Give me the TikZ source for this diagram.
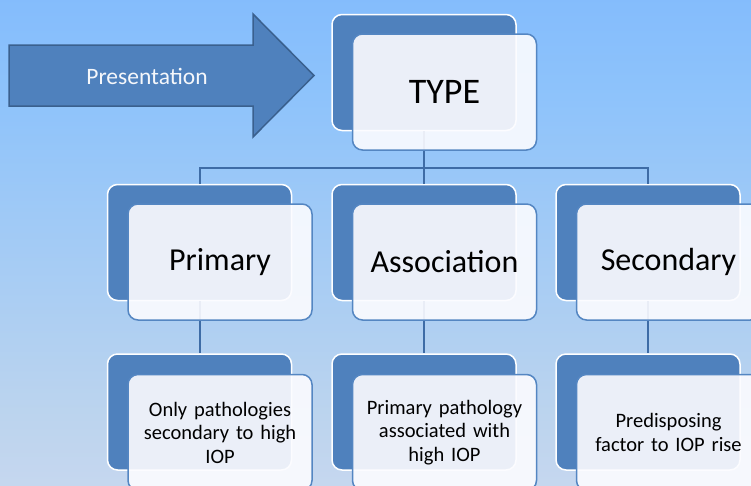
\documentclass[tikz,border=0pt]{standalone}
\usepackage{fontspec}
\setmainfont{Carlito}
\usetikzlibrary{calc}

\definecolor{boxblue}{RGB}{79,129,189}
\definecolor{edgeblue}{RGB}{84,134,194}
\definecolor{lineblue}{RGB}{62,108,166}
\definecolor{arrowedge}{RGB}{58,96,142}
\definecolor{frontfill}{RGB}{252,252,255}
\definecolor{bgtop}{RGB}{108,172,255}
\definecolor{bgmid}{RGB}{142,195,251}
\definecolor{bglow}{RGB}{188,212,238}
\definecolor{bgbot}{RGB}{231,225,242}
\pgfdeclareverticalshading{bgfade}{100bp}{color(0bp)=(bgbot); color(32bp)=(bglow);
  color(65bp)=(bgmid); color(100bp)=(bgtop)}

\begin{document}
\begin{tikzpicture}[x=1pt,y=-1pt,
  backbox/.style={draw=white,line width=1.5pt,fill=boxblue,rounded corners=10pt,
    minimum width=184pt,minimum height=116pt,inner sep=0pt},
  frontbox/.style={draw=edgeblue,line width=1.5pt,fill=frontfill,fill opacity=.9,
    text opacity=1,rounded corners=10pt,minimum width=184pt,minimum height=116pt,
    inner sep=0pt,align=center,xshift=20.5pt,yshift=-19.5pt},
  bigtext/.style={font=\fontsize{32}{38}\selectfont},
  smalltext/.style={font=\fontsize{20.5}{23.5}\selectfont,text width=166pt},
  link/.style={draw=lineblue,line width=2pt}]
 \clip (0,0) rectangle (751,485);
 \shade[shading=bgfade] (0,0) rectangle (751,485);

 % presentation arrow
 \draw[fill=boxblue,draw=arrowedge,line width=1.5pt]
   (9,45) -- (253,45) -- (253,14) -- (314,75.5) -- (253,137) -- (253,106)
   -- (9,106) -- cycle;
 \node[text=white!94!boxblue,font=\fontsize{23.5}{28}\selectfont] (pres)
   at (147,76) {Presentation};

 % back boxes
 \node[backbox] (typeb) at (424,72.5) {};
 \node[backbox] (primb) at (199.5,242.5) {};
 \node[backbox] (assb)  at (424,242.5) {};
 \node[backbox] (secb)  at (648,242.5) {};
 \node[backbox] (primlb) at (199.5,412) {};
 \node[backbox] (asslb)  at (424,412) {};
 \node[backbox] (seclb)  at (648,412) {};

 % connectors
 \coordinate (bus) at (0,168);
 \draw[link] (typeb.south) -- (typeb.south |- bus);
 \draw[link] (primb.north) -- (primb.north |- bus) -- (secb.north |- bus)
   -- (secb.north);
 \draw[link] (assb.north) -- (assb.north |- bus);
 \draw[link] (primb.south) -- (primlb.north);
 \draw[link] (assb.south) -- (asslb.north);
 \draw[link] (secb.south) -- (seclb.north);

 % front boxes
 \node[frontbox,font=\fontsize{36}{40}\selectfont] (type) at (typeb.center) {TYPE};
 \node[frontbox,bigtext] (prim) at (primb.center) {Primary};
 \node[frontbox,bigtext] (ass)  at (assb.center) {Association};
 \node[frontbox,bigtext] (sec)  at (secb.center) {Secondary};
 \node[frontbox,smalltext] (priml) at ([yshift=-1pt]primlb.center)
   {Only pathologies\\secondary to high\\IOP};
 \node[frontbox,smalltext] (assl) at ([yshift=-1pt]asslb.center)
   {Primary pathology\\associated with\\high IOP};
 \node[frontbox,smalltext] (secl) at ([yshift=-1pt]seclb.center)
   {Predisposing\\factor to IOP rise};
\end{tikzpicture}
\end{document}
